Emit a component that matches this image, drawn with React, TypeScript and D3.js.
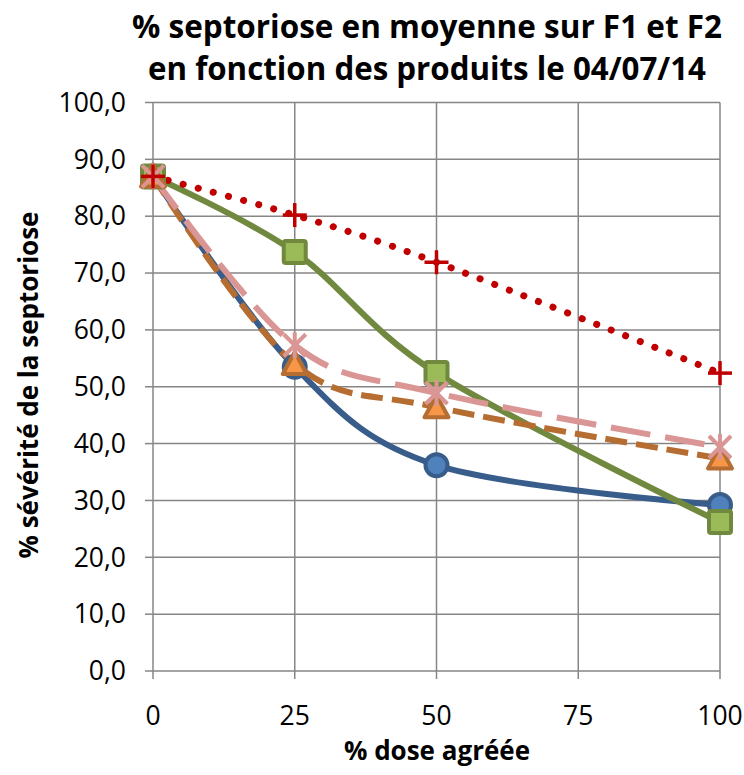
import React from "react";
import * as d3 from "d3";

const doses = [0, 25, 50, 100];
const xTicks = [0, 25, 50, 75, 100];
const yTicks = [0, 10, 20, 30, 40, 50, 60, 70, 80, 90, 100];
const blueVals = [87.0, 53.5, 36.2, 29.2];
const greenVals = [87.0, 73.7, 52.4, 26.2];
const orangeVals = [87.0, 54.0, 46.4, 37.4];
const pinkVals = [87.0, 57.3, 48.9, 39.4];
const redVals = [87.0, 80.2, 71.9, 52.4];

const titleLines = ["% septoriose en moyenne sur F1 et F2", "en fonction des produits le 04/07/14"];
const xTitle = "% dose agréée";
const yTitle = "% sévérité de la septoriose";

const W = 744, H = 775;
const x = d3.scaleLinear().domain([0, 100]).range([153, 720]);
const y = d3.scaleLinear().domain([0, 100]).range([671, 102.5]);

type S = { vals: number[]; stroke: string; dash?: string; cap?: string; width: number; marker: string; mfill: string; mstroke: string };
const series: S[] = [
  { vals: blueVals, stroke: "#385D8A", width: 6, marker: "circle", mfill: "#4F81BD", mstroke: "#385D8A" },
  { vals: greenVals, stroke: "#71893F", width: 6, marker: "square", mfill: "#9BBB59", mstroke: "#71893F" },
  { vals: orangeVals, stroke: "#B66D31", width: 6, dash: "22 9", marker: "triangle", mfill: "#F79646", mstroke: "#B66D31" },
  { vals: pinkVals, stroke: "#D99694", width: 6, dash: "40 15", marker: "x", mfill: "none", mstroke: "#D99694" },
  { vals: redVals, stroke: "#C00000", width: 7, dash: "0.1 15.5", cap: "round", marker: "plus", mfill: "none", mstroke: "#C00000" },
];

function Marker({ kind, cx, cy, fill, stroke }: { kind: string; cx: number; cy: number; fill: string; stroke: string }) {
  if (kind === "circle") return <circle cx={cx} cy={cy} r={11} fill={fill} stroke={stroke} strokeWidth={4} />;
  if (kind === "square") return <rect x={cx - 11} y={cy - 11} width={22} height={22} rx={2} fill={fill} stroke={stroke} strokeWidth={4} />;
  if (kind === "triangle") {
    const p = `M${cx},${cy - 12} L${cx + 12},${cy + 10} L${cx - 12},${cy + 10} Z`;
    return <path d={p} fill={fill} stroke={stroke} strokeWidth={4} strokeLinejoin="round" />;
  }
  if (kind === "x") {
    const r = 11;
    return (
      <g stroke={stroke} strokeWidth={4}>
        <line x1={cx - r} y1={cy - r} x2={cx + r} y2={cy + r} />
        <line x1={cx - r} y1={cy + r} x2={cx + r} y2={cy - r} />
        <line x1={cx} y1={cy - r - 2} x2={cx} y2={cy + r + 2} />
      </g>
    );
  }
  const r = 12;
  return (
    <g stroke={stroke} strokeWidth={3.5}>
      <line x1={cx - r} y1={cy} x2={cx + r} y2={cy} />
      <line x1={cx} y1={cy - r} x2={cx} y2={cy + r} />
    </g>
  );
}

export default function App() {
  const line = d3.line<number>().x((_, i) => x(doses[i])).y((v) => y(v)).curve(d3.curveCardinal.tension(0));
  const fmt = (v: number) => v.toFixed(1).replace(".", ",");
  const font = "'Open Sans', sans-serif";
  const titleLens = [590, 558];
  return (
    <svg width={W} height={H} style={{ position: "absolute", left: 0, top: 0, background: "#fff" }} fontFamily={font}>
      <rect width={W} height={H} fill="#fff" />
      {titleLines.map((t, i) => (
        <text key={i} x={427} y={38 + i * 42} textAnchor="middle" fontWeight="bold" fontSize={32} textLength={titleLens[i]} lengthAdjust="spacingAndGlyphs" fill="#000">{t}</text>
      ))}
      {yTicks.map((t) => (
        <g key={t}>
          <line x1={x(0)} x2={x(100)} y1={y(t)} y2={y(t)} stroke="#868686" strokeWidth={1.5} />
          <line x1={145} x2={153} y1={y(t)} y2={y(t)} stroke="#868686" strokeWidth={1.5} />
          <text x={126} y={y(t)} dy="0.35em" textAnchor="end" fontSize={26.5} fill="#000">{fmt(t)}</text>
        </g>
      ))}
      {xTicks.map((t) => (
        <g key={t}>
          <line x1={x(t)} x2={x(t)} y1={y(100)} y2={y(0) + 8} stroke="#868686" strokeWidth={1.5} />
          <text x={x(t)} y={725} textAnchor="middle" fontSize={26.5} fill="#000">{t}</text>
        </g>
      ))}
      <text x={437} y={760} textAnchor="middle" fontWeight="bold" fontSize={26} fill="#000">{xTitle}</text>
      <text transform={`translate(38,385) rotate(-90)`} textAnchor="middle" fontWeight="bold" fontSize={26} fill="#000">{yTitle}</text>
      {series.map((s, i) => (
        <path key={i} d={line(s.vals) || ""} fill="none" stroke={s.stroke} strokeWidth={s.width} strokeDasharray={s.dash} strokeLinecap={(s.cap as any) || "butt"} />
      ))}
      {series.map((s, i) => (
        <g key={i}>
          {s.vals.map((v, j) => (
            <Marker key={j} kind={s.marker} cx={x(doses[j])} cy={y(v)} fill={s.mfill} stroke={s.mstroke} />
          ))}
        </g>
      ))}
    </svg>
  );
}
